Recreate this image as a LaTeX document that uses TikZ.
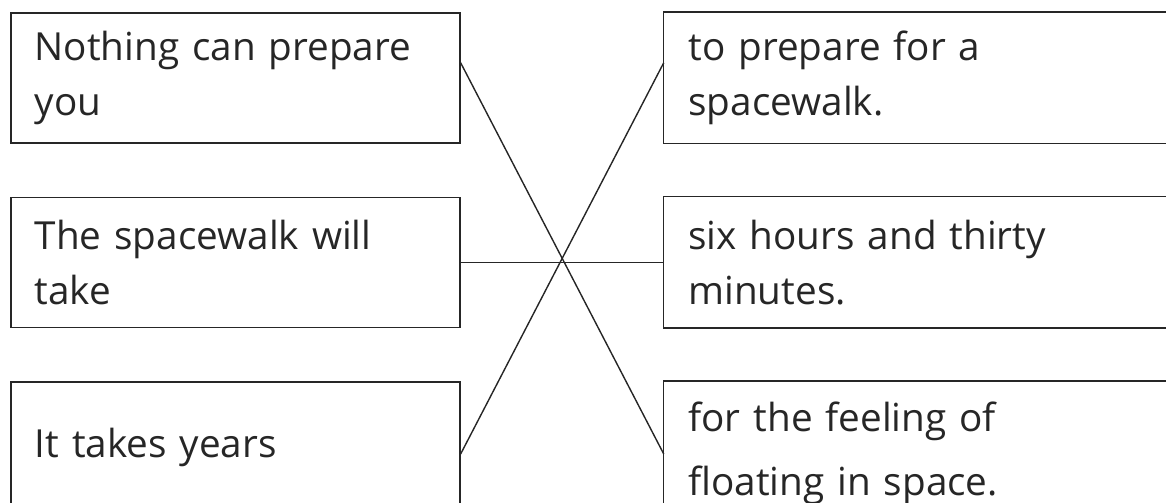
\documentclass[tikz,border=0pt]{standalone}
\usepackage{fontspec}
\setmainfont{Open Sans}
\usetikzlibrary{positioning}

\begin{document}
\begin{tikzpicture}[
                x = 0.025cm, y = -0.025cm, % one unit is one pixel of the sheet
                node distance = 1.325cm and 5.075cm, % gaps between boxes
                semithick % line style
            ]

            \useasboundingbox (0,0) rectangle (1166,503);

            \tikzstyle{every node}=[draw = black!85, text = black!85, rectangle,
            line width = 1.1pt, align = left, minimum height = 3.25cm,
            inner xsep = 0.6cm, font = \fontsize{27.5}{39}\selectfont]
            \tikzstyle{left box}=[text width = 10.025cm]
            % right boxes run off the sheet, so their right side is not drawn
            \tikzstyle{right box}=[draw = none, text width = 14cm]
            \tikzstyle{open side}=[black!85, line width = 1.1pt]

            \node (l1) [left box, anchor = north west] at (10,12)
            {Nothing can prepare\\you}; \node (l2) [left box, below = of l1]
            {The spacewalk will\\take}; \node (l3) [left box, below = of l2]
            {It takes years};

            \node (r1) [right box, right = of l1] {to prepare for a\\spacewalk.};
            \node (r2) [right box, right = of l2] {six hours and thirty\\minutes.};
            \node (r3) [right box, right = of l3] {\rule{0pt}{30pt}for the feeling
            of\\[0.25cm]floating in space.};

            \draw[open side] (r1.north east) -- (r1.north west) -- (r1.south west)
            -- (r1.south east); \draw[open side] (r2.north east) -- (r2.north west)
            -- (r2.south west) -- (r2.south east); \draw[open side] (r3.north east)
            -- (r3.north west) -- (r3.south west) -- (r3.south east);

            \path[-, black!85, line width = 1pt] ([yshift = 0.375cm]l1.east) edge
            ([yshift = -0.175cm]r3.west); \path[-, black!85, line width = 1pt]
            (l2.east) edge (r2.west); \path[-, black!85, line width = 1pt]
            ([yshift = -0.175cm]l3.east) edge ([yshift = 0.375cm]r1.west);

        \end{tikzpicture}
\end{document}
